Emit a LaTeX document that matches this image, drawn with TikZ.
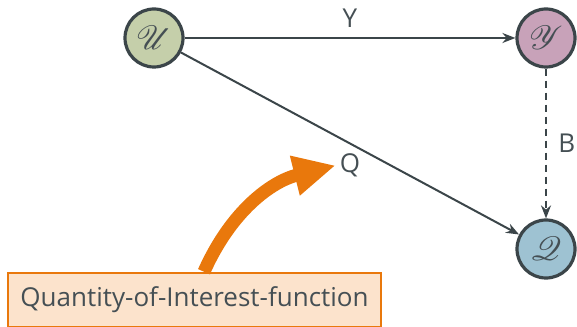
\documentclass[tikz,border=0pt]{standalone}
\usepackage{fontspec}
\setmainfont{Open Sans}
\usepackage{mathrsfs}
\usepackage{graphicx}
\usepackage{xcolor}
\usepackage{tikz}
\usetikzlibrary{arrows.meta, positioning}
\definecolor{ink}{HTML}{3B4549}
\definecolor{txt}{HTML}{454F54}
\definecolor{ufill}{HTML}{C5CFAA}
\definecolor{yfill}{HTML}{C8A2B9}
\definecolor{qfill}{HTML}{9EC2D2}
\definecolor{hint}{HTML}{E9780C}
\definecolor{hintfill}{HTML}{FCE3CC}
% script letter for a space
\newcommand{\spacesym}[1]{\scalebox{1.35}{$\mathscr{#1}$}}
\tikzset{
    mapdiagram/.style={>={Stealth[length=13pt,width=10pt]}, line width=2pt, draw=ink, text=txt, font=\fontsize{26}{31}\selectfont, x=1pt, y=1pt},
    space/.style={draw=ink, circle, line width=3.2pt, minimum size=58pt, inner sep=0pt},
    % callout box and the fat arrow out of it
    callout/.style={draw=hint, fill=hintfill, line width=2.5pt, minimum width=373pt, minimum height=54pt},
    fatarrow/.style={draw=hint, line width=13pt, -{Triangle[length=42pt,width=38pt]}},
}

\begin{document}
\begin{tikzpicture}[mapdiagram]
    \useasboundingbox (0,0) rectangle (577,326);
    \node[space, fill=ufill] (U) at (154,288) {\spacesym{U}};
    \node[space, fill=yfill] (Y) at (546,288) {\spacesym{Y}};
    \node[space, fill=qfill] (Q) at (546,77)  {\spacesym{Q}};
    \node[callout] (qoi) at (194.5,26) {Quantity-of-Interest-function};

    \draw[->] (U) -- node[above=6pt] {Y} (Y);
    \draw[->] (U) -- node[below=6pt] (qlbl) {Q} (Q);
    \draw[->, dashed, dash pattern=on 7pt off 5pt] (Y) -- node[right=8pt] {B} (Q);

    % pointer from the box to the label
    \draw[fatarrow] (qoi.north -| 204,0) to[out=66, in=194] (qlbl.west);
\end{tikzpicture}
\end{document}
